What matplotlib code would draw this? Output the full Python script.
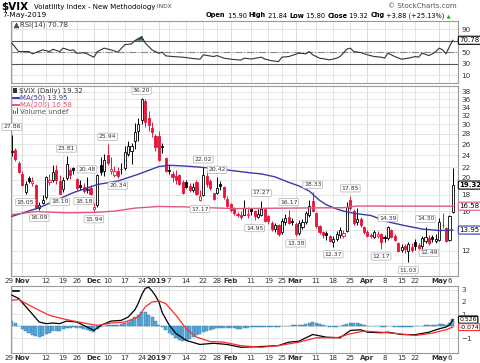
import matplotlib.pyplot as plt
import numpy as np
from matplotlib.lines import Line2D
from matplotlib.patches import Rectangle
from matplotlib.transforms import ScaledTranslation

W, H = 480, 363

# ---------------- data ----------------
prev_close = 24.16

opens = [24.50, 24.90, 22.70, 21.00, 18.40, 20.40, 19.60, 19.30, 16.40, 17.00,
         17.70, 19.80, 20.10, 21.50, 19.90, 18.80, 20.30, 21.60, 21.80, 20.20,
         19.40, 19.10, 18.60, 18.90, 16.20, 16.70, 22.40, 21.40, 24.00, 21.40,
         20.80, 21.40, 21.70, 21.90, 24.20, 24.80, 26.60, 28.50, 31.00, 35.40,
         31.50, 29.30, 27.50, 27.50, 25.60, 23.50, 21.60, 20.90, 20.60, 20.80,
         19.70, 19.80, 19.20, 18.60, 19.70, 17.40, 18.00, 20.60, 19.90, 18.20,
         18.20, 19.50, 19.00, 17.50, 16.90, 16.40, 15.70, 15.60, 15.60, 15.60,
         16.20, 16.00, 15.30, 15.60, 16.20, 15.40, 14.70, 14.10, 14.50, 13.80,
         14.80, 15.30, 14.90, 14.60, 13.70, 14.30, 14.80, 15.60, 17.20, 15.80,
         14.40, 13.80, 13.70, 13.40, 12.80, 13.10, 13.50, 13.40, 13.90, 17.40,
         16.00, 14.80, 15.10, 14.30, 13.80, 13.50, 13.30, 13.40, 13.60, 13.30,
         13.20, 14.00, 13.40, 12.70, 12.10, 12.40, 12.00, 12.30, 12.80, 12.50,
         12.40, 12.90, 13.20, 13.30, 12.90, 13.00, 14.50, 14.15, 13.00, 15.90]
highs = [27.86, 25.30, 23.00, 21.40, 19.90, 20.60, 20.50, 19.50, 17.10, 18.00,
         20.70, 21.00, 22.40, 22.30, 20.80, 20.50, 23.81, 21.90, 22.10, 20.30,
         20.00, 19.60, 20.48, 19.30, 17.00, 21.00, 23.60, 24.20, 25.94, 23.70,
         22.20, 22.00, 22.60, 25.60, 26.50, 26.30, 30.20, 31.50, 36.20, 36.00,
         33.00, 30.50, 28.00, 28.50, 26.20, 23.60, 22.30, 21.40, 21.50, 21.00,
         20.00, 20.00, 19.60, 19.60, 20.00, 18.60, 22.02, 21.50, 20.20, 18.30,
         20.42, 19.90, 19.20, 17.80, 17.00, 16.50, 15.90, 16.00, 17.30, 16.50,
         16.40, 16.10, 16.30, 17.27, 16.40, 15.60, 14.90, 14.70, 14.60, 15.20,
         15.70, 16.17, 15.20, 14.80, 15.00, 15.10, 16.00, 17.30, 18.33, 15.90,
         14.50, 13.90, 13.90, 13.50, 13.40, 13.90, 14.30, 14.00, 17.10, 17.85,
         16.20, 16.40, 15.30, 14.40, 14.00, 13.70, 14.00, 13.90, 13.70, 13.50,
         14.39, 14.10, 13.60, 12.80, 12.60, 12.60, 12.80, 12.70, 13.10, 12.70,
         13.40, 14.30, 13.50, 13.50, 13.60, 15.20, 15.80, 14.30, 15.50, 21.84]
lows = [23.80, 23.00, 21.10, 19.20, 18.05, 19.60, 19.20, 16.20, 16.09, 16.80,
        17.50, 19.40, 19.80, 19.50, 18.10, 18.40, 20.10, 20.20, 20.90, 18.70,
        18.60, 18.18, 18.30, 18.00, 15.94, 16.50, 20.80, 20.60, 22.30, 20.90,
        20.50, 20.34, 20.90, 21.50, 23.90, 22.50, 25.00, 26.50, 30.00, 29.50,
        28.50, 27.40, 24.80, 23.00, 24.30, 21.20, 20.90, 19.80, 19.50, 19.30,
        18.10, 18.90, 18.40, 18.40, 18.00, 17.17, 17.90, 19.00, 18.60, 17.30,
        18.10, 18.60, 17.50, 16.50, 15.90, 15.60, 15.30, 15.10, 15.50, 15.20,
        15.60, 14.95, 15.20, 15.40, 14.80, 14.60, 13.90, 13.80, 13.40, 13.60,
        14.50, 14.60, 14.50, 13.38, 13.50, 14.10, 14.60, 15.30, 15.90, 14.20,
        13.60, 13.20, 13.00, 12.80, 12.37, 12.90, 13.20, 13.20, 13.80, 16.10,
        14.50, 14.50, 14.30, 13.60, 13.30, 13.20, 13.20, 13.20, 12.17, 12.80,
        13.00, 13.20, 12.90, 11.90, 11.90, 11.80, 11.03, 11.90, 12.10, 12.00,
        12.20, 12.70, 12.49, 12.80, 12.70, 12.90, 14.20, 12.75, 12.90, 15.80]
closes = [24.70, 23.35, 21.23, 19.34, 19.51, 19.96, 19.91, 16.36, 16.72, 17.36,
          20.45, 20.02, 21.25, 19.98, 18.14, 20.10, 22.48, 20.80, 21.52, 18.90,
          19.02, 18.49, 18.79, 18.07, 16.44, 20.74, 21.19, 23.23, 22.64, 21.76,
          21.46, 20.65, 21.63, 24.52, 25.58, 25.58, 28.38, 30.11, 36.07, 30.41,
          29.96, 28.34, 25.42, 23.22, 25.45, 21.38, 21.40, 20.47, 19.98, 19.50,
          18.19, 19.07, 18.60, 19.04, 18.06, 17.80, 20.80, 19.52, 18.89, 17.42,
          18.87, 19.13, 17.66, 16.57, 16.14, 15.73, 15.57, 15.38, 16.37, 15.72,
          15.97, 15.43, 15.65, 16.22, 14.91, 14.88, 14.02, 14.46, 13.51, 14.85,
          15.17, 14.70, 14.78, 13.57, 14.63, 14.74, 15.74, 16.59, 16.05, 14.33,
          13.77, 13.41, 13.50, 12.88, 13.10, 13.56, 13.91, 13.63, 16.48, 16.33,
          14.68, 15.15, 14.43, 13.71, 13.40, 13.36, 13.74, 13.58, 12.82, 13.18,
          14.28, 13.30, 13.02, 12.01, 12.32, 12.18, 12.60, 12.09, 12.42, 12.28,
          13.14, 13.25, 12.73, 13.11, 13.12, 14.80, 14.42, 12.87, 15.44, 19.32]

# moving averages (sampled along the drawn line)
ma50_day = [0, 8, 18, 25, 31, 37, 43, 46, 50, 55, 60, 63, 70, 73, 77, 81, 84, 87, 90, 92,
            95, 97, 100, 105, 110, 115, 120, 125, 129]
ma50 = [15.4, 16.4, 18.3, 19.4, 19.9, 20.9, 22.1, 22.3, 22.2, 22.0, 21.75, 21.55, 21.1, 20.95,
        20.5, 19.7, 19.2, 18.5, 17.3, 16.75, 16.25, 16.0, 15.75, 15.5, 14.8, 14.4, 14.05, 13.9, 13.95]
ma200_day = [0, 7, 16, 24, 30, 36, 43, 50, 56, 65, 80, 97, 101, 129]
ma200 = [15.6, 15.95, 15.8, 15.85, 16.0, 16.35, 16.55, 16.5, 16.42, 16.3, 16.35, 16.4, 16.6, 16.58]

# RSI(14)
rsi_day = [0, 2, 5, 6, 9, 11, 12, 14, 15, 17, 18, 19, 21, 22, 24, 25, 27, 29, 31, 33,
           35, 36, 38, 39, 41, 43, 44, 45, 47, 50, 53, 55, 56, 59, 60, 62, 64, 67, 68, 70,
           73, 74, 76, 78, 79, 81, 84, 86, 87, 88, 90, 93, 95, 96, 98, 99, 100, 102, 104, 106,
           108, 109, 110, 112, 114, 116, 118, 119, 120, 122, 123, 124, 125, 126, 127, 128, 129]
rsi = [65.8, 51, 51, 47, 54, 51, 55, 51, 57, 53, 54, 48, 49, 47, 41, 51, 57, 54, 50, 63,
       64.5, 70.3, 77.3, 66, 54, 48, 50, 43.5, 42.3, 41.2, 38.8, 37.7, 45.3, 42.3, 44, 39.5, 37.7, 36, 39.5, 38,
       41.2, 37.7, 35, 33.5, 41.2, 42.3, 48.2, 47, 51, 45.3, 39.5, 36.5, 39.5, 42.3, 55.3, 57, 51, 49.3, 45.3, 42.3,
       41.2, 39.5, 48.2, 42.3, 37.7, 39.5, 42.3, 41.2, 48.2, 44, 47, 51, 57, 54, 47, 59.8, 70.78]

# MACD(12,26,9)
macd_day = [0, 2, 5, 8, 10, 12, 14, 16, 19, 22, 24, 26, 29, 32, 34, 36, 37, 38, 39, 40,
            41, 42, 43, 44, 46, 48, 51, 55, 59, 63, 67, 73, 78, 81, 84, 88, 92, 96, 99, 102,
            104, 108, 110, 114, 118, 122, 125, 127, 128, 129]
macd = [2.55, 2.27, 1.31, 0.34, 0.21, 0.26, 0.21, 0.42, 0.34, -0.07, -0.35, 0.07, 0.42, 0.48, 0.75, 1.35, 1.9, 2.6, 3.1, 3.2,
        2.9, 2.5, 2.0, 1.1, 0.1, -0.6, -1.17, -1.5, -1.4, -1.5, -1.73, -1.67, -1.59, -1.31, -1.23, -0.68, -0.9, -0.95, -0.35, -0.29,
        -0.49, -0.54, -0.49, -0.68, -0.70, -0.49, -0.21, -0.07, 0.10, 0.526]
signal_day = [0, 2, 6, 11, 16, 22, 25, 29, 33, 37, 39, 41, 43, 45, 48, 51, 54, 58, 62, 67,
              73, 78, 84, 89, 95, 99, 103, 108, 113, 118, 123, 127, 129]
signal = [2.13, 2.19, 1.58, 0.89, 0.54, 0.21, 0.07, 0.26, 0.34, 0.75, 1.58, 1.99, 2.07, 1.86, 0.9, -0.2, -0.9, -1.26, -1.31, -1.6,
          -1.73, -1.59, -1.31, -0.95, -0.95, -0.62, -0.40, -0.49, -0.62, -0.76, -0.57, -0.29, -0.074]
hist = [0.42, 0.30, 0.05, -0.20, -0.38, -0.55, -0.70, -0.80, -0.85, -0.80,
        -0.68, -0.52, -0.42, -0.38, -0.36, -0.25, -0.14, -0.12, -0.10, -0.14,
        -0.18, -0.22, -0.28, -0.38, -0.46, -0.22, -0.05, 0.05, 0.10, 0.10,
        0.12, 0.12, 0.15, 0.25, 0.35, 0.55, 0.75, 0.95, 1.20, 1.15,
        0.95, 0.72, 0.45, 0.12, -0.08, -0.35, -0.55, -0.75, -0.95, -1.10,
        -1.18, -1.12, -1.02, -0.90, -0.76, -0.62, -0.47, -0.36, -0.28, -0.20,
        -0.15, -0.12, -0.12, -0.14, -0.16, -0.18, -0.20, -0.20, -0.14, -0.12,
        -0.10, -0.08, -0.05, -0.04, -0.06, -0.06, -0.05, -0.03, -0.04, 0.02,
        0.04, 0.05, 0.06, 0.06, 0.08, 0.12, 0.20, 0.28, 0.32, 0.28,
        0.18, 0.08, 0.02, -0.04, -0.06, -0.04, 0.02, 0.06, 0.20, 0.30,
        0.26, 0.24, 0.16, 0.08, 0.04, 0.02, 0.02, 0.00, -0.04, -0.05,
        0.02, -0.02, -0.04, -0.08, -0.08, -0.07, -0.05, -0.05, -0.02, -0.01,
        0.04, 0.08, 0.08, 0.08, 0.10, 0.18, 0.18, 0.08, 0.28, 0.60]

# date axis
tick_day = [0, 3, 10, 15, 19, 24, 28, 33, 38, 43, 46, 51, 56, 60, 64, 70, 75, 79, 83, 89,
            94, 99, 104, 109, 114, 118, 125, 128]
tick_lab = ['29', 'Nov', '12', '19', '26', 'Dec', '10', '17', '24', '2019', '7', '14', '22', '28',
            'Feb', '11', '19', '25', 'Mar', '11', '18', '25', 'Apr', '8', '15', '22', 'May', '6']
months = {'Nov', 'Dec', '2019', 'Feb', 'Mar', 'Apr', 'May'}

# swing high / low annotations
hi_days = [0, 16, 22, 28, 38, 56, 60, 73, 81, 88, 99, 110, 121]
lo_days = [4, 8, 14, 21, 24, 31, 55, 71, 83, 94, 108, 116, 122]

# ---------------- styling ----------------
RED = '#e3173c'
MA50_C = '#3a3aaa'
MA200_C = '#e0587a'
GRID = '#e0e0e0'
MGRID = '#c8c8c8'
FRAME = '#9a9a9a'
TXT = '#333333'

plt.rcParams['font.family'] = 'DejaVu Sans'


def rect(l, t, r, b):
    return [l / W, 1 - b / H, (r - l) / W, (b - t) / H]


def fpos(x, y):
    return x / W, 1 - y / H


fig = plt.figure(figsize=(4.8, 3.63), dpi=100, facecolor='white')
ax_r = fig.add_axes(rect(11, 21, 458, 83))
ax_p = fig.add_axes(rect(11, 86, 458, 276))
ax_m = fig.add_axes(rect(11, 286, 458, 353))

nudge_left = ScaledTranslation(-2.0 / 72, 0, fig.dpi_scale_trans)
for ax in (ax_r, ax_p, ax_m):
    ax.set_xlim(-0.26, 130.5)
    ax.set_xticks(tick_day)
    ax.set_xticklabels(tick_lab)
    ax.tick_params(axis='x', length=0, pad=1.5, labelsize=5.1, colors=TXT)
    ax.yaxis.tick_right()
    ax.tick_params(axis='y', length=0, pad=2.5, labelsize=5.2, colors=TXT)
    ax.grid(True, color=GRID, lw=0.6)
    ax.set_axisbelow(True)
    for s in ax.spines.values():
        s.set_color(FRAME)
        s.set_linewidth(0.8)
    for d, lab in zip(tick_day, tick_lab):
        if lab in months:
            ax.axvline(d, color=MGRID, lw=0.7, zorder=0.5)
    for t in ax.get_xticklabels():
        if t.get_text() in months:
            t.set_fontweight('bold')
        if t.get_text() in ('2019', '29'):
            t.set_transform(t.get_transform() + nudge_left)
ax_r.tick_params(axis='x', labelbottom=False)


def tag(ax, val, text, ec, fc='white', weight='normal', size=5):
    ax.annotate(text, xy=(1, val), xycoords=ax.get_yaxis_transform(),
                xytext=(1.0, 0), textcoords='offset points', va='center', ha='left',
                fontsize=size, color='black', fontweight=weight,
                bbox=dict(boxstyle='round,pad=0.15', fc=fc, ec=ec, lw=0.8),
                annotation_clip=False, zorder=10)


# ---------------- RSI panel ----------------
r = np.array(rsi)
ax_r.set_ylim(-4, 104.5)
ax_r.set_yticks([10, 30, 50, 70, 90])
ax_r.set_yticklabels(['10', '30', '50', '', '90'])
ax_r.axhline(70, color='#555555', lw=0.8, zorder=1)
ax_r.axhline(30, color='#555555', lw=0.8, zorder=1)
ax_r.axhline(50, color='#888888', lw=0.8, ls='-.', zorder=1)
ax_r.fill_between(rsi_day, 70, r, where=r > 70, interpolate=True, color='#3d6b3d', lw=0, zorder=2)
ax_r.plot(rsi_day, r, color='#333333', lw=0.8, zorder=3)
tag(ax_r, rsi[-1], f'{rsi[-1]:.2f}', 'black')

# ---------------- price panel ----------------
o, h, l, c = (np.array(v) for v in (opens, highs, lows, closes))
days = np.arange(len(c))
pc = np.r_[prev_close, c[:-1]]
col = ['black' if a >= b else RED for a, b in zip(c, pc)]
face = ['white' if a > b else k for a, b, k in zip(c, o, col)]
ax_p.vlines(days, l, h, colors=col, lw=0.7, zorder=3)
ax_p.bar(days, np.abs(c - o), bottom=np.minimum(o, c), width=0.62,
         color=face, edgecolor=col, linewidth=0.6, zorder=4)
ax_p.plot(ma50_day, ma50, color=MA50_C, lw=1.0, zorder=5)
ax_p.plot(ma200_day, ma200, color=MA200_C, lw=1.0, zorder=5)
ax_p.set_yscale('log')
ax_p.set_ylim(10.0, 39.6)
yt = [11, 12, 14, 16, 18, 20, 22, 24, 26, 28, 30, 32, 34, 36, 38]
ax_p.set_yticks(yt)
ax_p.set_yticklabels(['' if v in (11, 14) else str(v) for v in yt])
ax_p.yaxis.set_minor_locator(plt.NullLocator())
ax_p.yaxis.set_minor_formatter(plt.NullFormatter())
nudge_up = ScaledTranslation(0, 2.0 / 72, fig.dpi_scale_trans)
for t in ax_p.get_yticklabels():
    if t.get_text() == '20':
        t.set_transform(t.get_transform() + nudge_up)

lab_box = dict(boxstyle='round,pad=0.18', fc='white', ec='#b0b0b0', lw=0.5)
for d in hi_days:
    ax_p.annotate(f'{highs[d]:.2f}', xy=(d, highs[d]), xytext=(0, 5.5), textcoords='offset points',
                  ha='center', va='center', fontsize=4.4, color=TXT, bbox=lab_box,
                  zorder=6, annotation_clip=False)
for d in lo_days:
    ax_p.annotate(f'{lows[d]:.2f}', xy=(d, lows[d]), xytext=(0, -5.5), textcoords='offset points',
                  ha='center', va='center', fontsize=4.4, color=TXT, bbox=lab_box,
                  zorder=6, annotation_clip=False)

tag(ax_p, ma200[-1], f'{ma200[-1]:.2f}', MA200_C)
tag(ax_p, ma50[-1], f'{ma50[-1]:.2f}', MA50_C)
tag(ax_p, closes[-1], f'{closes[-1]:.2f}', 'black', weight='bold')

# ---------------- MACD panel ----------------
ax_m.bar(days, hist, width=0.9, color='#5aaad8', edgecolor='#2b78a8', linewidth=0.3, zorder=2)
ax_m.plot(macd_day, macd, color='black', lw=0.9, zorder=3)
ax_m.plot(signal_day, signal, color='#ff2a2a', lw=0.9, zorder=3)
ax_m.set_ylim(-2.2, 3.3)
ax_m.set_yticks([-1, 0, 1, 2, 3])
ax_m.set_yticklabels(['\u22121', '', '1', '2', '3'])
tag(ax_m, hist[-1], f'{hist[-1]:.3f}', '#3a9ad9', fc='#cfe8f7', size=4.4)
tag(ax_m, macd[-1], f'{macd[-1]:.3f}', 'black', size=4.4)
tag(ax_m, signal[-1], f'{signal[-1]:.3f}', '#ff2a2a', size=4.4)


# ---------------- texts ----------------
def chain(parts, x, y, size):
    prev = None
    for txt, kw in parts:
        style = {'fontsize': size, **kw}
        if prev is None:
            prev = ax_r.annotate(txt, xy=(x, H - y), xycoords='figure pixels', va='center', ha='left',
                                 annotation_clip=False, **style)
        else:
            prev = ax_r.annotate(txt, xy=(1, 0.5), xycoords=prev, va='center', ha='left',
                                 annotation_clip=False, **style)
    return prev


fig.text(*fpos(1, 7), '$VIX', fontsize=7.5, fontweight='bold', va='center')
chain([('Volatility Index - New Methodology', {}),
       (' INDX', {'fontsize': 4.2, 'color': '#444444'})], 34, 7, 5)
fig.text(*fpos(2, 15.5), '7-May-2019', fontsize=5.3, va='center')
fig.text(*fpos(457, 6), '\u00a9 StockCharts.com', fontsize=5, va='center', ha='right', color='#555555')

B = {'fontweight': 'bold'}
N = {}
chain([('Open', B), (' 15.90 ', N), ('High', B), (' 21.84 ', N), ('Low', B), (' 15.80 ', N),
       ('Close', B), (' 19.32 ', N), ('Chg', B), (' +3.88 (+25.13%)', N),
       (' \u25b2', {'color': '#2a9a2a', 'fontsize': 3.8})], 206, 15.5, 4.75)

# RSI legend
fig.add_artist(Line2D([fpos(15.5, 0)[0]], [fpos(0, 25)[1]], marker='^', ms=3.5, color='#3d6b3d',
                      mec='#222222', mew=0.4, transform=fig.transFigure))
fig.text(*fpos(20, 25), 'RSI(14) 70.78', fontsize=5, va='center', color=TXT)

# price legend
fig.add_artist(Rectangle(fpos(13, 93), 4 / W, 5 / H, transform=fig.transFigure, fc='#333333', ec='none'))
fig.text(*fpos(19, 90.8), '$VIX (Daily) 19.32', fontsize=5, va='center', color=TXT)
fig.add_artist(Line2D([12.5 / W, 19 / W], [1 - 97.5 / H] * 2, color=MA50_C, lw=1.4, transform=fig.transFigure))
fig.text(*fpos(20, 97.5), 'MA(50) 13.95', fontsize=5, va='center', color=MA50_C)
fig.add_artist(Line2D([12.5 / W, 19 / W], [1 - 104.5 / H] * 2, color=MA200_C, lw=1.4, transform=fig.transFigure))
fig.text(*fpos(20, 104.5), 'MA(200) 16.58', fontsize=5, va='center', color=MA200_C)
for bx, bh in ((13, 4), (15, 3), (17, 5)):
    fig.add_artist(Rectangle(fpos(bx, 113.5), 1.3 / W, bh / H, transform=fig.transFigure, fc='#666666', ec='none'))
fig.text(*fpos(19.5, 111.5), 'Volume undef', fontsize=5, va='center', color='#555555')

# MACD legend
fig.add_artist(Line2D([13 / W, 19 / W], [1 - 290.5 / H] * 2, color='black', lw=1.2, transform=fig.transFigure))
chain([('MACD(12,26,9) 0.526', {'color': TXT}), (', -0.074,', {'color': '#ff2a2a'}),
       (' 0.600', {'color': '#3aa0e0'})], 20, 290.5, 5)

fig.savefig('out.png', dpi=100, facecolor='white')
